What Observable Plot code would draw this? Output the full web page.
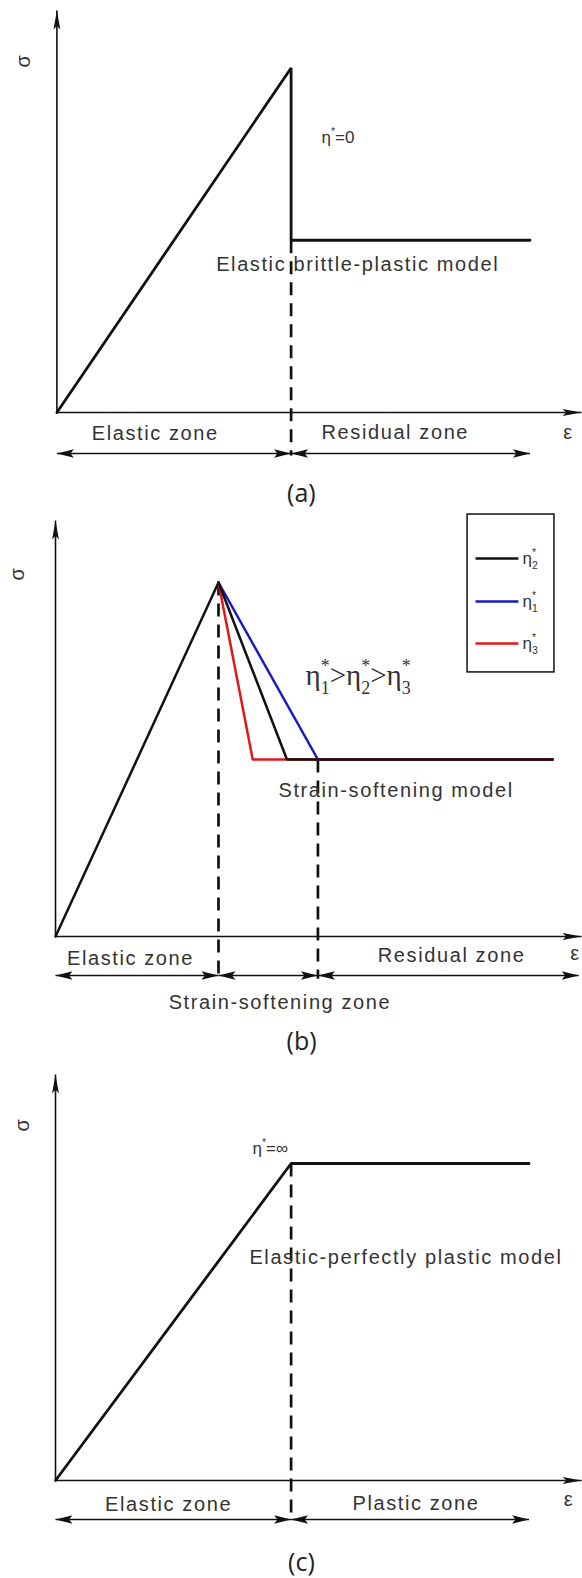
<!DOCTYPE html>
<html>
<head>
<meta charset="utf-8">
<script src="https://cdn.jsdelivr.net/npm/d3@7"></script>
<script src="https://cdn.jsdelivr.net/npm/@observablehq/plot@0.6"></script>
<style>
  body { margin: 0; background: #fff; }
  #figure svg { display: block; }
</style>
</head>
<body>
<div id="figure"></div>
<script>
// ---------- data (normalised: peak strain = 1, peak stress = 1) ----------

// (a) elastic brittle-plastic model
const brittleStrain = [0, 1, 1, 2.02];
const brittleStress = [0, 1, 0.5, 0.5];
const brittleZones = ["Elastic zone", "Residual zone"];
const brittleZoneBounds = [0, 1, 2.02];

// (b) strain-softening model
const elasticStrain = [0, 1];
const elasticStress = [0, 1];
const softeningLabels = ["η_{2}^{*}", "η_{1}^{*}", "η_{3}^{*}"];
const softeningColors = ["#111111", "#1818c8", "#e01818"];
const softeningEndStrain = [1.42, 1.61, 1.21];
const residualStress = 0.5;
const residualEndStrain = 3.05;
const softeningZones = ["Elastic zone", "Strain-softening zone", "Residual zone"];
const softeningZoneBounds = [0, 1, 1.61, 3.21];

// (c) elastic-perfectly plastic model
const plasticStrain = [0, 1, 2.01];
const plasticStress = [0, 1, 1];
const plasticZones = ["Elastic zone", "Plastic zone"];
const plasticZoneBounds = [0, 1, 2.01];

// ---------- drawing helpers ----------
const ink = "#111";
const textInk = "#333";
const sans = "Liberation Sans, Arial, sans-serif";

// filled dart arrowhead, tip at the anchor point
function dart(dir, len, half) {
  const rot = {right: 0, left: Math.PI, up: -Math.PI / 2, down: Math.PI / 2}[dir];
  const c = Math.cos(rot), s = Math.sin(rot);
  const pts = [[0, 0], [-len, -half], [-len * 0.8, 0], [-len, half]];
  return {
    draw(ctx) {
      pts.forEach(([px, py], i) => {
        const X = px * c - py * s, Y = px * s + py * c;
        i ? ctx.lineTo(X, Y) : ctx.moveTo(X, Y);
      });
      ctx.closePath();
    }
  };
}

function pts(xs, ys) { return xs.map((x, i) => ({x, y: ys[i]})); }

function axes(xEnd, yTop) {
  return [
    Plot.link([{x1: 0, y1: 0, x2: xEnd, y2: 0}], {x1: "x1", y1: "y1", x2: "x2", y2: "y2", stroke: ink, strokeWidth: 1.6}),
    Plot.link([{x1: 0, y1: 0, x2: 0, y2: yTop}], {x1: "x1", y1: "y1", x2: "x2", y2: "y2", stroke: ink, strokeWidth: 1.6}),
    Plot.dot([{x: xEnd, y: 0}], {x: "x", y: "y", symbol: dart("right", 19, 3.4), fill: ink, stroke: "none"}),
    Plot.dot([{x: 0, y: yTop}], {x: "x", y: "y", symbol: dart("up", 19, 3.4), fill: ink, stroke: "none"})
  ];
}

// double-headed dimension arrows spanning consecutive bounds, dy pixels below the strain axis
function dimensions(bounds, dy) {
  const spans = bounds.slice(1).map((b, i) => ({from: bounds[i], to: b}));
  return [
    Plot.link(spans, {x1: "from", x2: "to", y1: () => 0, y2: () => 0, dy, stroke: ink, strokeWidth: 1.5}),
    Plot.dot(spans, {x: "from", y: () => 0, dy, symbol: dart("left", 17, 4.2), fill: ink, stroke: "none"}),
    Plot.dot(spans, {x: "to", y: () => 0, dy, symbol: dart("right", 17, 4.2), fill: ink, stroke: "none"})
  ];
}

function label(text, x, y, opts = {}) {
  return Plot.text([text], {
    x: () => x, y: () => y, text: d => d,
    fill: textInk, fontFamily: sans, fontSize: 20, ...opts
  });
}

function caption(text, x, dy) {
  return label(text, x, 0, {dy, fontFamily: "Open Sans, Noto Sans, sans-serif", fontSize: 25, fill: "#222"});
}

function panel(height, xRange, yRange, marks) {
  return Plot.plot({
    width: 582, height, margin: 0,
    x: {domain: [0, 1], range: xRange, axis: null},
    y: {domain: [0, 1], range: yRange, axis: null},
    style: {background: "white", overflow: "visible"},
    marks
  });
}

// subscripts / superscripts written as _{..} and ^{..}; a ^{..} right after _{..} stacks above it
function richText(svg) {
  d3.select(svg).selectAll("text").each(function () {
    const raw = this.textContent;
    if (!/[_^]\{/.test(raw)) return;
    const fs = parseFloat(getComputedStyle(this).fontSize);
    while (this.firstChild) this.removeChild(this.firstChild);
    const tokens = raw.match(/_\{[^}]*\}|\^\{[^}]*\}|[^_^]+/g);
    let level = 0, pending = 0, prev = null;
    for (const tok of tokens) {
      const t = document.createElementNS("http://www.w3.org/2000/svg", "tspan");
      let kind = "text", target = 0, size = fs;
      if (tok.startsWith("_{")) { kind = "sub"; target = 0.3 * fs; size = 0.62 * fs; t.textContent = tok.slice(2, -1); }
      else if (tok.startsWith("^{")) { kind = "sup"; target = -0.45 * fs; size = 0.62 * fs; t.textContent = tok.slice(2, -1); }
      else t.textContent = tok;
      let dx = pending; pending = 0;
      const stacked = kind === "sup" && prev && prev.kind === "sub";
      if (stacked) dx -= prev.w;
      t.setAttribute("font-size", size);
      if (target - level) t.setAttribute("dy", target - level);
      if (dx) t.setAttribute("dx", dx);
      level = target;
      this.appendChild(t);
      const w = t.getComputedTextLength();
      if (stacked && prev.w > w) pending = prev.w - w;
      prev = {kind, w};
    }
  });
}

// the 20px annotation text is set with open tracking
function spaceText(svg) {
  d3.select(svg).selectAll("g").filter(function () { return this.getAttribute("font-size") === "20"; })
    .style("letter-spacing", "1.6px");
}

// ---------- (a) elastic brittle-plastic ----------
const chartA = panel(510, [56.4, 290.6], [412, 67.5], [
  ...axes(2.24, 1.167),
  Plot.link([{x: 1, y1: 0.5, y2: -0.125}], {x1: "x", x2: "x", y1: "y1", y2: "y2", stroke: ink, strokeWidth: 2.7, strokeDasharray: "13,8"}),
  Plot.line(pts(brittleStrain, brittleStress), {x: "x", y: "y", stroke: ink, strokeWidth: 2.8, strokeLinejoin: "miter"}),
  label("σ", -0.143, 1.022, {rotate: -90}),
  label("η^{*}=0", 1.13, 0.798, {textAnchor: "start", fontSize: 17}),
  label("Elastic brittle-plastic model", 0.68, 0.43, {textAnchor: "start"}),
  label(brittleZones[0], 0.42, 0, {dy: 21}),
  label(brittleZones[1], 1.445, 0, {dy: 20}),
  label("ε", 2.184, 0, {dy: 20}),
  ...dimensions(brittleZoneBounds, 41),
  caption("(a)", 1.044, 81)
]);

// ---------- (b) strain-softening ----------
const softeningPaths = softeningLabels.map((lab, i) => ({
  label: lab, color: softeningColors[i],
  points: pts([1, softeningEndStrain[i], residualEndStrain], [1, residualStress, residualStress])
}));
const drawOrder = [1, 2, 0]; // η1*, η3* under η2*
const legendRowsY = [1.068, 0.946, 0.828];

const chartB = panel(550, [55, 218], [426, 72], [
  ...axes(3.227, 1.175),
  Plot.link([{x: 1, y1: 1, y2: -0.119}, {x: softeningEndStrain[1], y1: residualStress, y2: -0.119}],
    {x1: "x", x2: "x", y1: "y1", y2: "y2", stroke: ink, strokeWidth: 2.7, strokeDasharray: "13,8"}),
  Plot.line(pts(elasticStrain, elasticStress), {x: "x", y: "y", stroke: ink, strokeWidth: 2.5}),
  ...drawOrder.map(i => Plot.line(softeningPaths[i].points,
    {x: "x", y: "y", stroke: softeningPaths[i].color, strokeWidth: 2.5, strokeLinejoin: "miter"})),
  // legend
  Plot.rect([{x1: 2.528, x2: 3.061, y1: 0.746, y2: 1.192}], {x1: "x1", x2: "x2", y1: "y1", y2: "y2", fill: "white", stroke: ink, strokeWidth: 1.5}),
  Plot.link(softeningLabels.map((l, i) => ({y: legendRowsY[i], c: softeningColors[i]})),
    {x1: () => 2.577, x2: () => 2.84, y1: "y", y2: "y", stroke: "c", strokeWidth: 2.5}),
  Plot.text(softeningLabels.map((l, i) => ({l, y: legendRowsY[i]})),
    {x: () => 2.865, y: "y", text: "l", textAnchor: "start", fill: textInk, fontFamily: sans, fontSize: 17}),
  label("η_{1}^{*}>η_{2}^{*}>η_{3}^{*}", 1.534, 0.737, {textAnchor: "start", fontFamily: "Liberation Serif, Times New Roman, serif", fontSize: 29}),
  label("Strain-softening model", 1.368, 0.412, {textAnchor: "start"}),
  label("σ", -0.233, 1.025, {rotate: -90}),
  label(softeningZones[0], 0.46, 0, {dy: 22}),
  label(softeningZones[2], 2.43, 0, {dy: 19}),
  label("ε", 3.19, 0, {dy: 17}),
  ...dimensions(softeningZoneBounds, 39),
  label(softeningZones[1], 1.377, 0, {dy: 66}),
  caption("(b)", 1.51, 105)
]);

// ---------- (c) elastic-perfectly plastic ----------
const chartC = panel(518, [55, 290.6], [420, 103], [
  ...axes(2.233, 1.281),
  Plot.link([{x: 1, y1: 1, y2: -0.123}], {x1: "x", x2: "x", y1: "y1", y2: "y2", stroke: ink, strokeWidth: 2.7, strokeDasharray: "13,8"}),
  Plot.line(pts(plasticStrain, plasticStress), {x: "x", y: "y", stroke: ink, strokeWidth: 2.8, strokeLinejoin: "miter"}),
  label("σ", -0.14, 1.123, {rotate: -90}),
  label("η^{*}=∞", 0.836, 1.0, {textAnchor: "start", fontSize: 17, dy: -15}),
  label("Elastic-perfectly plastic model", 0.823, 0.703, {textAnchor: "start"}),
  label(plasticZones[0], 0.48, 0, {dy: 24}),
  label(plasticZones[1], 1.53, 0, {dy: 23}),
  label("ε", 2.18, 0, {dy: 19}),
  ...dimensions(plasticZoneBounds, 39),
  caption("(c)", 1.044, 82)
]);

const fig = document.getElementById("figure");
for (const chart of [chartA, chartB, chartC]) {
  fig.appendChild(chart);
  spaceText(chart);
  richText(chart);
}
</script>
</body>
</html>
